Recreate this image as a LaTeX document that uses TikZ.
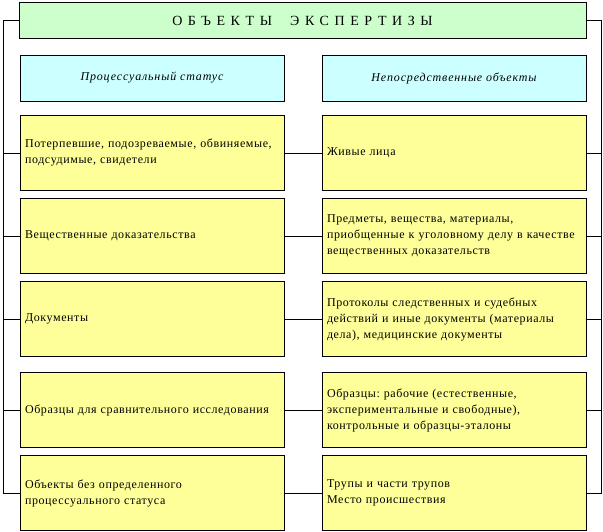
\documentclass[tikz,border=0pt]{standalone}
\usepackage{fontspec}
\setmainfont{Liberation Serif}
\frenchspacing
\definecolor{titlegreen}{HTML}{CCFFCC}
\definecolor{headcyan}{HTML}{CCFFFF}
\definecolor{boxyellow}{HTML}{FFFF99}
\begin{document}
\begin{tikzpicture}[x=1pt,y=-1pt,line width=0.8pt,
    every node/.style={draw,inner sep=0pt},
    titlebox/.style={fill=titlegreen,minimum width=567pt,minimum height=36pt,
      font=\fontsize{14}{16}\selectfont\addfontfeature{LetterSpace=40}},
    headbox/.style={fill=headcyan,minimum width=264pt,minimum height=46pt,
      font=\fontsize{12}{14}\selectfont\itshape\addfontfeature{LetterSpace=7}},
    itembox/.style={fill=boxyellow,minimum height=75pt,text width=254pt,
      inner xsep=5pt,align=left,
      font=\fontsize{12}{16}\selectfont\addfontfeature{LetterSpace=5}}]
    \useasboundingbox (0,0) rectangle (603,532);

    \node[titlebox] (title) at (302.5,20.5) {ОБЪЕКТЫ\ \ ЭКСПЕРТИЗЫ};

    \node[headbox] (hproc) at (152,78) {Процессуальный статус};
    \node[headbox] (hobj) at (454,78) {Непосредственные объекты};

    \node[itembox] (l1) at (152,153) {Потерпевшие, подозреваемые, обвиняемые,\\подсудимые, свидетели};
    \node[itembox] (l2) at (152,236) {Вещественные доказательства};
    \node[itembox] (l3) at (152,319) {Документы};
    \node[itembox] (l4) at (152,410) {Образцы для сравнительного исследования};
    \node[itembox] (l5) at (152,493) {Объекты без определенного\\процессуального статуса};

    \node[itembox] (r1) at (454,153) {Живые лица};
    \node[itembox] (r2) at (454,236) {Предметы, вещества, материалы,\\приобщенные к уголовному делу в качестве\\вещественных доказательств};
    \node[itembox] (r3) at (454,319) {Протоколы следственных и судебных\\действий и иные документы (материалы\\дела), медицинские документы};
    \node[itembox] (r4) at (454,410) {Образцы: рабочие (естественные,\\экспериментальные и свободные),\\контрольные и образцы-эталоны};
    \node[itembox] (r5) at (454,493) {Трупы и части трупов\\Место происшествия};

    \coordinate (lbot) at (3,493);
    \coordinate (rbot) at (601,493);
    \draw (title.west) -| (lbot) -- (l5.west);
    \draw (title.east) -| (rbot) -- (r5.east);
    \foreach \i in {1,...,5} {
      \draw (l\i.east) -- (r\i.west);
    }
    \foreach \i in {1,...,4} {
      \draw (l\i.west) -- (l\i.west -| lbot);
      \draw (r\i.east) -- (r\i.east -| rbot);
    }
  \end{tikzpicture}
\end{document}
